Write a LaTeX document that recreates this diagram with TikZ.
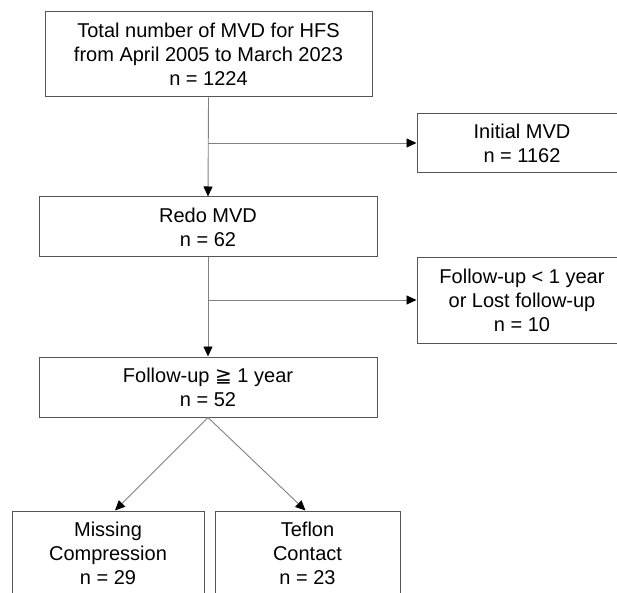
\documentclass[tikz,border=0pt]{standalone}
\usepackage{fontspec}
\setmainfont{Liberation Sans}
\newfontfamily\symf{DejaVu Sans}
\usetikzlibrary{arrows.meta,calc}
\definecolor{boxline}{HTML}{555555}
\definecolor{conline}{HTML}{808080}
\begin{document}
\begin{tikzpicture}[x=1pt,y=1pt,
  flowbox/.style={draw=boxline,line width=1pt,align=center,inner sep=0pt,
    font=\fontsize{20}{24}\selectfont,text=black},
  conn/.style={draw=conline,line width=0.9pt},
  arr/.style={conn,-{Triangle[length=10pt,width=9pt,fill=black,color=black]}}]
\useasboundingbox (0,0) rectangle (617,592);
\clip (0,0) rectangle (617,592);
\node[flowbox,minimum width=327pt,minimum height=85pt] (total) at (208.5,537.5)
  {Total number of MVD for HFS\\from April 2005 to March 2023\\n = 1224};
\node[flowbox,minimum width=210pt,minimum height=59pt] (initial) at (522,448.5)
  {Initial MVD\\n = 1162};
\node[flowbox,minimum width=338pt,minimum height=60pt] (redo) at (208,365)
  {Redo MVD\\n = 62};
\node[flowbox,minimum width=210pt,minimum height=85pt] (lost) at (522,291.5)
  {Follow-up < 1 year\\or Lost follow-up\\n = 10};
\node[flowbox,minimum width=338pt,minimum height=60pt] (fu) at (208,205)
  {Follow-up {\symf ≧} 1 year\\n = 52};
\node[flowbox,minimum width=192pt,minimum height=85pt] (missing) at (108,38.5)
  {Missing\\Compression\\n = 29};
\node[flowbox,minimum width=185pt,minimum height=85pt] (teflon) at (307.5,38.5)
  {Teflon\\Contact\\n = 23};
\coordinate (b1) at (208,449);
\coordinate (b2) at (208,292);
\draw[arr] (total.south) -- (redo.north);
\draw[arr] (b1) -- (b1 -| initial.west);
\draw[arr] (redo.south) -- (fu.north);
\draw[arr] (b2) -- (b2 -| lost.west);
\draw[arr] (fu.south) -- ([xshift=7pt]missing.north);
\draw[arr] (fu.south) -- ([xshift=-2pt]teflon.north);
\end{tikzpicture}
\end{document}
